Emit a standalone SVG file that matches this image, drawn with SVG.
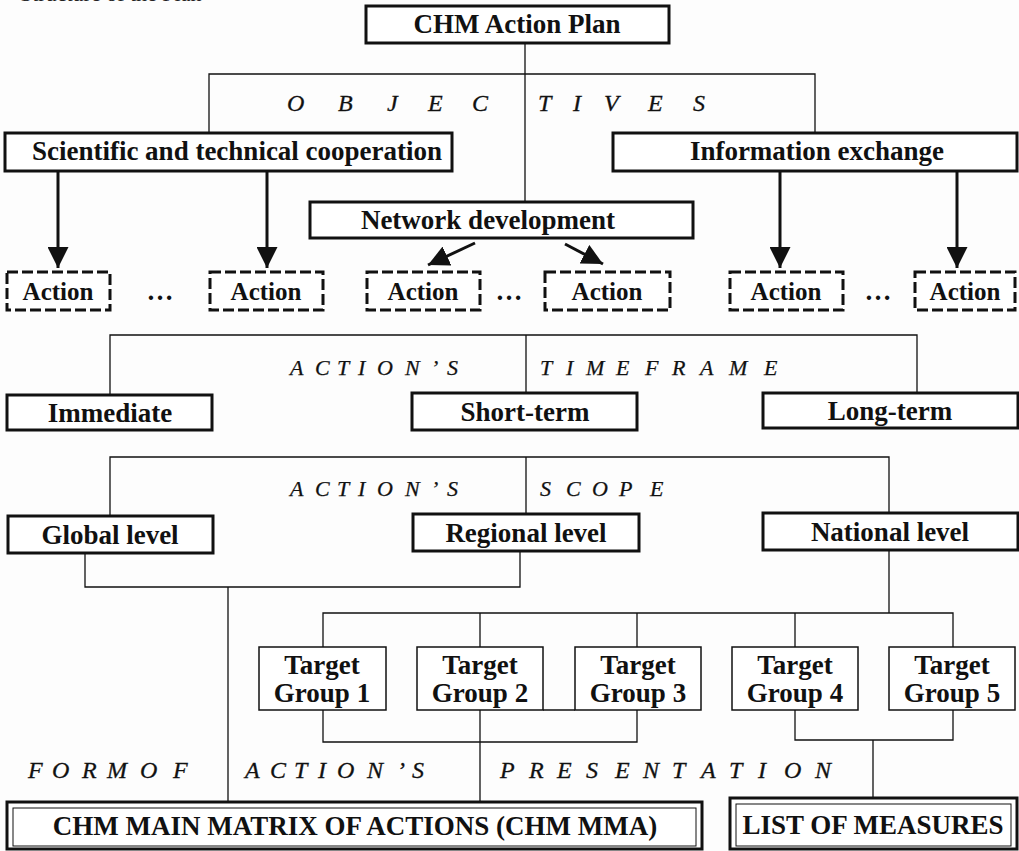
<svg xmlns="http://www.w3.org/2000/svg" width="1019" height="851" viewBox="0 0 1019 851">
<defs>
<style>
.bx{fill:#fff;stroke:#111;stroke-width:3}
.tg{fill:#fff;stroke:#111;stroke-width:1.5}
.ac{fill:#fff;stroke:#111;stroke-width:3;stroke-dasharray:11 4}
.ln{fill:none;stroke:#111;stroke-width:1.3}
.ar{fill:none;stroke:#111;stroke-width:3}
.t{font-family:"Liberation Serif","Times New Roman",serif;font-weight:bold;font-size:27px;fill:#111;text-anchor:middle}
.ta{font-size:25px}
.it{font-family:"Liberation Serif","Times New Roman",serif;font-style:italic;font-size:24px;fill:#111;stroke:#111;stroke-width:0.3}
.it2{font-family:"Liberation Serif","Times New Roman",serif;font-style:italic;font-size:22px;fill:#111;stroke:#111;stroke-width:0.25}
.cap{font-family:"Liberation Serif","Times New Roman",serif;font-size:22px;fill:#222}
</style>
<marker id="ah" viewBox="0 0 10 10" refX="10" refY="5" markerWidth="7" markerHeight="7" markerUnits="strokeWidth" orient="auto">
<path d="M0,0 L10,5 L0,10 z" fill="#111"/>
</marker>
</defs>
<rect x="0" y="0" width="1019" height="851" fill="#fdfdfd"/>
<text class="cap" x="20" y="1">Structure of the Plan</text>

<g id="connectors">
<path class="ln" d="M525,43 V202 M209,134 V74 H815 V134"/>
<line class="ar" x1="58" y1="171" x2="58" y2="268" marker-end="url(#ah)"/>
<line class="ar" x1="267" y1="171" x2="267" y2="268" marker-end="url(#ah)"/>
<line class="ar" x1="780" y1="171" x2="780" y2="268" marker-end="url(#ah)"/>
<line class="ar" x1="957" y1="171" x2="957" y2="268" marker-end="url(#ah)"/>
<line class="ar" x1="475" y1="243" x2="428" y2="265" marker-end="url(#ah)"/>
<line class="ar" x1="565" y1="244" x2="603" y2="264" marker-end="url(#ah)"/>
<path class="ln" d="M110,394 V335 H917 V393 M526,335 V393"/>
<path class="ln" d="M110,516 V457 H889 V513 M526,457 V514"/>
<path class="ln" d="M85,553 V587 H520 V551 M228,587 V802"/>
<path class="ln" d="M889,550 V613 M323,647 V613 H953 V647 M480,613 V647 M637,613 V647 M795,613 V647"/>
<path class="ln" d="M323,710 V742 H637 V710 M480,710 V802 M543,710 H575"/>
<path class="ln" d="M795,710 V740 H953 V710 M873,740 V798"/>
</g>

<g id="n-plan"><rect class="bx" x="366" y="6" width="303" height="37"/><text class="t" x="517" y="33">CHM Action Plan</text></g>

<g id="objectives-label">
<text class="it" x="287 338 387 428 472 538 573 604 648 693" y="111">OBJECTIVES</text>
</g>

<g id="n-sci"><rect class="bx" x="5" y="133" width="447" height="38"/><text class="t" x="237" y="160">Scientific and technical cooperation</text></g>
<g id="n-info"><rect class="bx" x="613" y="133" width="404" height="38"/><text class="t" x="817" y="160">Information exchange</text></g>
<g id="n-net"><rect class="bx" x="310" y="202" width="383" height="36"/><text class="t" x="488" y="229">Network development</text></g>

<g id="n-act1"><rect class="ac" x="7" y="272" width="103" height="38"/><text class="t ta" x="58" y="300">Action</text></g>
<g id="n-act2"><rect class="ac" x="210" y="272" width="113" height="38"/><text class="t ta" x="266" y="300">Action</text></g>
<g id="n-act3"><rect class="ac" x="367" y="272" width="113" height="38"/><text class="t ta" x="423" y="300">Action</text></g>
<g id="n-act4"><rect class="ac" x="545" y="272" width="125" height="38"/><text class="t ta" x="607" y="300">Action</text></g>
<g id="n-act5"><rect class="ac" x="730" y="272" width="113" height="38"/><text class="t ta" x="786" y="300">Action</text></g>
<g id="n-act6"><rect class="ac" x="915" y="272" width="100" height="38"/><text class="t ta" x="965" y="300">Action</text></g>
<g id="dots">
<text class="t" x="160" y="300">…</text>
<text class="t" x="509" y="300">…</text>
<text class="t" x="878" y="300">…</text>
</g>

<g id="timeframe-label">
<text class="it2" x="290 315 337 358 377 405 431 447" y="375">ACTION’S</text>
<text class="it2" x="540 566 586 616 645 672 700 729 764" y="375">TIMEFRAME</text>
</g>

<g id="n-imm"><rect class="bx" x="7" y="395" width="205" height="35"/><text class="t" x="110" y="422">Immediate</text></g>
<g id="n-short"><rect class="bx" x="412" y="393" width="225" height="37"/><text class="t" x="525" y="421">Short-term</text></g>
<g id="n-long"><rect class="bx" x="763" y="393" width="255" height="35"/><text class="t" x="890" y="420">Long-term</text></g>

<g id="scope-label">
<text class="it2" x="290 315 337 358 377 405 431 447" y="496">ACTION’S</text>
<text class="it2" x="540 566 592 619 650" y="496">SCOPE</text>
</g>

<g id="n-global"><rect class="bx" x="8" y="516" width="205" height="37"/><text class="t" x="110" y="544">Global level</text></g>
<g id="n-regional"><rect class="bx" x="413" y="514" width="226" height="37"/><text class="t" x="526" y="542">Regional level</text></g>
<g id="n-national"><rect class="bx" x="763" y="513" width="255" height="37"/><text class="t" x="890" y="541">National level</text></g>

<g id="n-tg1"><rect class="tg" x="259" y="647" width="127" height="63"/><text class="t" x="322" y="674">Target</text><text class="t" x="322" y="702">Group 1</text></g>
<g id="n-tg2"><rect class="tg" x="417" y="647" width="126" height="63"/><text class="t" x="480" y="674">Target</text><text class="t" x="480" y="702">Group 2</text></g>
<g id="n-tg3"><rect class="tg" x="575" y="647" width="126" height="63"/><text class="t" x="638" y="674">Target</text><text class="t" x="638" y="702">Group 3</text></g>
<g id="n-tg4"><rect class="tg" x="732" y="647" width="126" height="63"/><text class="t" x="795" y="674">Target</text><text class="t" x="795" y="702">Group 4</text></g>
<g id="n-tg5"><rect class="tg" x="889" y="647" width="126" height="63"/><text class="t" x="952" y="674">Target</text><text class="t" x="952" y="702">Group 5</text></g>

<g id="presentation-label">
<text class="it" x="28 52 82 107 140 173" y="778">FORMOF</text>
<text class="it" x="245 270 294 318 337 367 397 412" y="778">ACTION’S</text>
<text class="it" x="500 529 557 586 615 643 672 701 729 758 784 815" y="778">PRESENTATION</text>
</g>

<g id="n-mma"><rect class="bx" x="7" y="802" width="695" height="47"/><rect x="13" y="808" width="683" height="38" fill="none" stroke="#111" stroke-width="1"/><text class="t" x="355" y="835">CHM MAIN MATRIX OF ACTIONS (CHM MMA)</text></g>
<g id="n-list"><rect class="bx" x="730" y="798" width="287" height="51"/><rect x="736" y="804" width="275" height="42" fill="none" stroke="#111" stroke-width="1"/><text class="t" x="873" y="834">LIST OF MEASURES</text></g>
</svg>
